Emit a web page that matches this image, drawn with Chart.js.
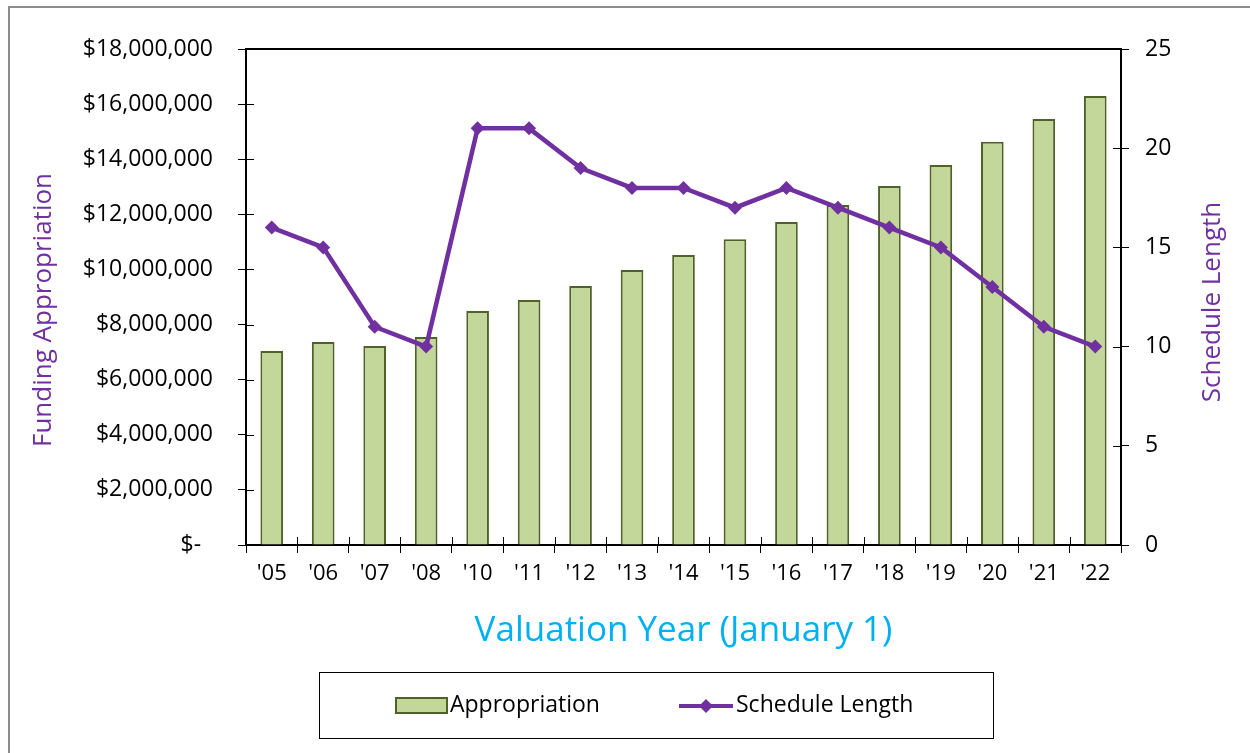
<!DOCTYPE html>
<html>
<head>
<meta charset="utf-8">
<script src="https://cdn.jsdelivr.net/npm/chart.js@4"></script>
<style>
    html, body { margin: 0; padding: 0; background: #fff; overflow: hidden; }
    #frame { position: absolute; left: 8px; top: 6px; width: 1300px; height: 800px;
             border-left: 2px solid #8c8c8c; border-top: 2px solid #8c8c8c; }
    #wrap { position: absolute; left: 0; top: 0; width: 1250px; height: 753px; }
</style>
</head>
<body>
<div id="frame"></div>
<div id="wrap"><canvas id="chart" width="1250" height="753"></canvas></div>
<script>
const years = ["'05", "'06", "'07", "'08", "'10", "'11", "'12", "'13", "'14", "'15", "'16", "'17", "'18", "'19", "'20", "'21", "'22"];
const appropriation = [7040000, 7370000, 7220000, 7550000, 8490000, 8890000, 9400000, 9980000, 10520000, 11100000, 11720000, 12340000, 13030000, 13790000, 14630000, 15460000, 16290000];
const scheduleLength = [16, 15, 11, 10, 21, 21, 19, 18, 18, 17, 18, 17, 16, 15, 13, 11, 10];

const FONT = "'Open Sans', sans-serif";
const PURPLE = "#7030A0";
const BAR_FILL = "#C4D79B";
const BAR_EDGE = "#4F6228";

function dollars(v) {
    if (v === 0) return "$-  ";
    return "$" + v.toLocaleString("en-US");
}

function rotatedText(ctx, text, x, y) {
    ctx.save();
    ctx.translate(x, y);
    ctx.rotate(-Math.PI / 2);
    ctx.textAlign = "center";
    ctx.textBaseline = "middle";
    ctx.fillText(text, 0, 0);
    ctx.restore();
}

// box round the plot, inner halves of the ticks, axis titles and the legend
const extras = {
    id: "extras",
    beforeDatasetsDraw(chart) {
        const a = chart.chartArea;
        const ctx = chart.ctx;
        ctx.save();
        ctx.strokeStyle = "#000";
        ctx.lineWidth = 2;
        ctx.strokeRect(a.left, a.top, a.right - a.left, a.bottom - a.top);
        ctx.lineWidth = 1;
        const y = chart.scales.y;
        const y1 = chart.scales.y1;
        const x = chart.scales.x;
        y.ticks.forEach(function (t) {
            const py = Math.round(y.getPixelForValue(t.value)) + 0.5;
            ctx.beginPath();
            ctx.moveTo(a.left, py);
            ctx.lineTo(a.left + 8, py);
            ctx.stroke();
        });
        y1.ticks.forEach(function (t) {
            const py = Math.round(y1.getPixelForValue(t.value)) + 0.5;
            ctx.beginPath();
            ctx.moveTo(a.right - 8, py);
            ctx.lineTo(a.right, py);
            ctx.stroke();
        });
        for (let i = 1; i < years.length; i++) {
            const px = Math.round((x.getPixelForValue(i - 1) + x.getPixelForValue(i)) / 2) + 0.5;
            ctx.beginPath();
            ctx.moveTo(px, a.bottom - 8);
            ctx.lineTo(px, a.bottom);
            ctx.stroke();
        }
        ctx.restore();
    },
    afterDraw(chart) {
        const ctx = chart.ctx;
        const bar = chart.data.datasets[1];
        const line = chart.data.datasets[0];
        ctx.save();
        ctx.fillStyle = PURPLE;
        ctx.font = "26px " + FONT;
        rotatedText(ctx, "Funding Appropriation", 44, 310);
        rotatedText(ctx, "Schedule Length", 1213, 302);

        ctx.strokeStyle = "#000";
        ctx.lineWidth = 1;
        ctx.strokeRect(319.5, 672.5, 674, 66);

        ctx.fillStyle = bar.backgroundColor;
        ctx.fillRect(396, 698, 51, 15);
        ctx.strokeStyle = bar.borderColor;
        ctx.lineWidth = 2;
        ctx.strokeRect(396, 698, 51, 15);

        ctx.strokeStyle = line.borderColor;
        ctx.lineWidth = 4;
        ctx.beginPath();
        ctx.moveTo(679, 706);
        ctx.lineTo(733, 706);
        ctx.stroke();
        ctx.fillStyle = line.pointBackgroundColor;
        ctx.beginPath();
        ctx.moveTo(706, 699);
        ctx.lineTo(713, 706);
        ctx.lineTo(706, 713);
        ctx.lineTo(699, 706);
        ctx.closePath();
        ctx.fill();

        ctx.fillStyle = "#000";
        ctx.font = "23px " + FONT;
        ctx.textBaseline = "middle";
        ctx.textAlign = "left";
        ctx.fillText(bar.label, 450, 705);
        ctx.fillText(line.label, 736, 705);
        ctx.restore();
    }
};

const ctx = document.getElementById("chart").getContext("2d");
const myChart = new Chart(ctx, {
    data: {
        labels: years,
        datasets: [
            {
                type: "line",
                label: "Schedule Length",
                data: scheduleLength,
                yAxisID: "y1",
                borderColor: PURPLE,
                borderWidth: 4.5,
                pointStyle: "rectRot",
                pointRadius: 7,
                pointBackgroundColor: PURPLE,
                pointBorderColor: PURPLE,
                pointBorderWidth: 0,
                tension: 0,
                order: 0,
            },
            {
                type: "bar",
                label: "Appropriation",
                data: appropriation,
                yAxisID: "y",
                backgroundColor: BAR_FILL,
                borderColor: BAR_EDGE,
                borderWidth: 2,
                categoryPercentage: 1,
                barPercentage: 0.44,
                order: 1,
            },
        ],
    },
    options: {
        responsive: false,
        animation: false,
        layout: { padding: { top: 49, left: 0, right: 0, bottom: 93 } },
        plugins: {
            legend: { display: false },
            tooltip: { enabled: false },
        },
        scales: {
            x: {
                offset: true,
                grid: { offset: true, drawOnChartArea: false, color: "#000", tickLength: 8, tickWidth: 1 },
                border: { color: "#000", width: 2 },
                ticks: { color: "#000", font: { family: FONT, size: 22 }, padding: 8, maxRotation: 0, autoSkip: false },
                title: { display: true, text: "Valuation Year (January 1)", color: "#00B0F0",
                         font: { family: FONT, size: 35 }, padding: { top: 0, bottom: 8 } },
                afterFit(scale) { scale.height = 115; },
            },
            y: {
                position: "left",
                min: 0,
                max: 18000000,
                grid: { drawOnChartArea: false, color: "#000", tickLength: 8 },
                border: { color: "#000", width: 2 },
                ticks: { stepSize: 2000000, color: "#000", font: { family: FONT, size: 23 }, padding: 25, callback: dollars },
                afterFit(scale) { scale.width = 246; },
            },
            y1: {
                position: "right",
                min: 0,
                max: 25,
                grid: { drawOnChartArea: false, color: "#000", tickLength: 8 },
                border: { color: "#000", width: 2 },
                ticks: { stepSize: 5, color: "#000", font: { family: FONT, size: 23 }, padding: 16 },
                afterFit(scale) { scale.width = 129; },
            },
        },
    },
    plugins: [extras],
});
</script>
</body>
</html>
